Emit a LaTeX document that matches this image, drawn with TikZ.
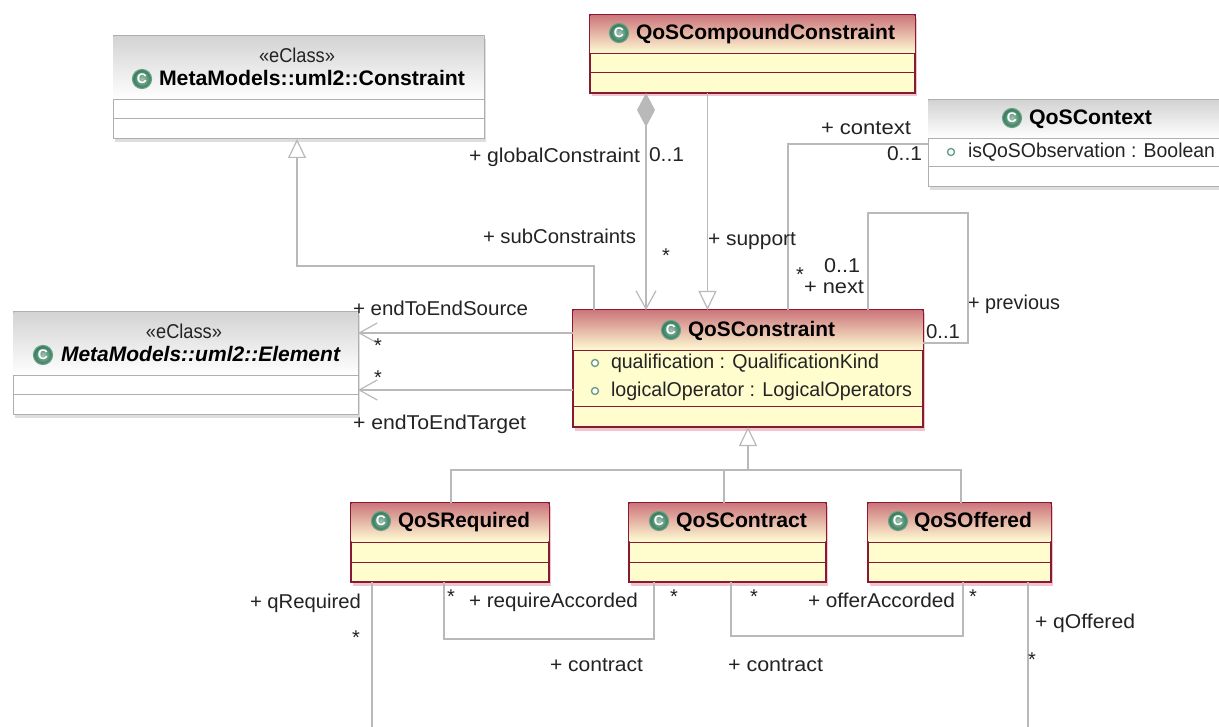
\documentclass[tikz,border=0pt]{standalone}
\usepackage{fontspec}
\usepackage{graphicx}
\setmainfont{Liberation Sans}
\usetikzlibrary{arrows.meta}
\definecolor{lineGray}{RGB}{185,185,185}
\definecolor{sepGray}{RGB}{175,175,175}
\definecolor{darkRed}{RGB}{135,25,50}
\definecolor{paleYellow}{RGB}{255,252,205}
\definecolor{headPink}{RGB}{205,120,125}
\definecolor{shadowPink}{RGB}{240,195,205}
\definecolor{shadowGray}{RGB}{222,222,222}
\definecolor{iconGreen}{RGB}{45,120,85}
\definecolor{inkBlack}{RGB}{35,35,35}
\newcommand{\fitbox}[2]{\resizebox{#1pt}{\height}{#2}}
\tikzset{
  x=1pt,y=-1pt,
  assoc/.style={draw=lineGray,line width=1.2pt},
  gen/.style={assoc,-{Triangle[open,length=19pt,width=18pt,fill=white]}},
  nav/.style={assoc,-{Straight Barb[length=18pt,width=20pt,line width=1.2pt]}},
  comp/.style={assoc,{Diamond[length=34pt,width=18pt,fill=lineGray,color=lineGray]}-{Straight Barb[length=18pt,width=20pt,line width=1.2pt]}},
  lab/.style={anchor=base west,inner sep=0pt,outer sep=0pt,text=inkBlack,font=\fontsize{20}{22}\selectfont},
  star/.style={inner sep=0pt,outer sep=0pt,text=inkBlack,font=\fontsize{20}{22}\selectfont},
  ttl/.style={anchor=base west,inner sep=0pt,outer sep=0pt,text=black,font=\fontsize{21}{23}\selectfont\bfseries},
  icon/.style={circle,inner sep=0pt,minimum size=19pt,draw=iconGreen!70!white,line width=1.2pt,
    inner color=iconGreen!45!white,outer color=iconGreen,text=white,font=\fontsize{14}{14}\selectfont\bfseries},
  dot/.style={circle,inner sep=0pt,minimum size=7pt,draw=iconGreen!70!white,line width=1.4pt,fill=white},
  redbox/.style={draw=darkRed,line width=1.2pt,fill=paleYellow,inner sep=0pt,outer sep=0pt},
  graybox/.style={draw=sepGray,line width=1pt,fill=white,inner sep=0pt,outer sep=0pt},
  redhead/.style={top color=headPink,bottom color=paleYellow!85!white,draw=none},
  grayhead/.style={top color=black!17,bottom color=white,draw=none},
  redsep/.style={draw=darkRed,line width=1pt},
  graysep/.style={draw=sepGray,line width=1pt},
  redshadow/.style={fill=shadowPink,draw=none},
  grayshadow/.style={fill=shadowGray,draw=none},
}
% name, x0, y0, x1, y1, sep1, sep2, kind
\newcommand{\umlclass}[8]{%
  \fill[#8shadow] (#2+2,#3+3) rectangle (#4+2,#5+3.5);
  \node[#8box,minimum width={#4-#2},minimum height={#5-#3}] (#1) at ({(#2+#4)/2},{(#3+#5)/2}) {};
  \path[#8head] (#2+0.7,#3+0.7) rectangle (#4-0.7,#6-0.5);
  \draw[#8sep] (#2,#6) -- (#4,#6);
  \draw[#8sep] (#2,#7) -- (#4,#7);
}
\newcommand{\lbl}[5]{\node[lab] (#1) at (#2,#4+6) {\fitbox{\the\numexpr#3-#2\relax}{#5}};}
\newcommand{\ttlnode}[5]{\node[ttl] (#1) at (#2,#4+6.5) {\fitbox{\the\numexpr#3-#2\relax}{#5}};}
\begin{document}
\begin{tikzpicture}
\useasboundingbox (0,0) rectangle (1219,727);
\clip (0,0) rectangle (1219,727);
\fill[white] (0,0) rectangle (1219,727);

\umlclass{cons}{113}{36}{484}{139}{100}{119}{gray}
\umlclass{comp}{590}{15}{915}{93}{54}{73}{red}
\umlclass{ctx}{928}{100}{1240}{187}{139}{167}{gray}
\umlclass{elem}{13}{312}{358}{415}{376}{395}{gray}
\umlclass{qos}{573}{310}{923}{427}{351}{407}{red}
\umlclass{req}{351}{503}{549}{582}{542}{562}{red}
\umlclass{ctr}{629}{503}{826}{582}{542}{562}{red}
\umlclass{off}{868}{503}{1051}{582}{542}{562}{red}

% titles
\node[star] (consS) at (297,55) {\fitbox{76}{«eClass»}};
\node[icon] (consI) at (142,79) {C};
\ttlnode{consT}{159}{465}{79}{MetaModels::uml2::Constraint}
\node[icon] (compI) at (619,33) {C};
\ttlnode{compT}{636}{895}{33}{QoSCompoundConstraint}
\node[icon] (ctxI) at (1012,118) {C};
\ttlnode{ctxT}{1029}{1152}{118}{QoSContext}
\node[dot] (ctxD) at (951,152) {};
\lbl{ctxA}{968}{1215}{152}{isQoSObservation : Boolean}
\node[star] (elemS) at (184,331) {\fitbox{76}{«eClass»}};
\node[icon] (elemI) at (43,355) {C};
\ttlnode{elemT}{61}{340}{355}{\itshape MetaModels::uml2::Element}
\node[icon] (qosI) at (671,330) {C};
\ttlnode{qosT}{688}{835}{330}{QoSConstraint}
\node[dot] (qosD1) at (595,363) {};
\lbl{qosA1}{611}{879}{363}{qualification : QualificationKind}
\node[dot] (qosD2) at (595,391) {};
\lbl{qosA2}{611}{912}{391}{logicalOperator : LogicalOperators}
\node[icon] (reqI) at (381,521) {C};
\ttlnode{reqT}{398}{530}{521}{QoSRequired}
\node[icon] (ctrI) at (659,521) {C};
\ttlnode{ctrT}{676}{807}{521}{QoSContract}
\node[icon] (offI) at (898,521) {C};
\ttlnode{offT}{914}{1032}{521}{QoSOffered}

% connectors
\coordinate (qreqEnd) at (372,727);
\coordinate (qoffEnd) at (1028,727);
\draw[gen] (594,0 |- qos.north) -- (594,266) -- (297,266) -- (297,0 |- cons.south);
\draw[comp] (646,0 |- comp.south) -- (646,0 |- qos.north);
\draw[gen] (707.5,0 |- comp.south) -- (707.5,0 |- qos.north);
\draw[assoc] (ctx.west |- 0,144) -- (788,144) -- (788,0 |- qos.north);
\draw[assoc] (868,0 |- qos.north) -- (868,213) -- (968,213) -- (968,343) -- (qos.east |- 0,343);
\draw[nav] (qos.west |- 0,333) -- (elem.east |- 0,333);
\draw[nav] (qos.west |- 0,390) -- (elem.east |- 0,390);
\coordinate (genJoin) at (748,470);
\draw[gen] (genJoin) -- (748,0 |- qos.south);
\draw[assoc] (451,0 |- req.north) -- (451,470) -- (genJoin);
\draw[assoc] (724,0 |- ctr.north) -- (724,470);
\draw[assoc] (961,0 |- off.north) -- (961,470) -- (genJoin);
\draw[assoc] (372,0 |- req.south) -- (qreqEnd);
\draw[assoc] (1028,0 |- off.south) -- (qoffEnd);
\draw[assoc] (444,0 |- req.south) -- (444,639) -- (654,639) -- (654,0 |- ctr.south);
\draw[assoc] (731,0 |- ctr.south) -- (731,636) -- (963,636) -- (963,0 |- off.south);

% connector labels
\lbl{l1}{469}{640}{157}{+ globalConstraint}
\lbl{l2}{649}{684}{156}{0..1}
\lbl{l3}{483}{636}{238}{+ subConstraints}
\node[star] (s1) at (666,256) {*};
\lbl{l4}{708}{796}{240}{+ support}
\lbl{l5}{821}{911}{129}{+ context}
\lbl{l6}{887}{922}{155}{0..1}
\node[star] (s2) at (800,275) {*};
\lbl{l7}{824}{860}{267}{0..1}
\lbl{l8}{804}{864}{288}{+ next}
\lbl{l9}{968}{1060}{304}{+ previous}
\lbl{l10}{926}{960}{333}{0..1}
\lbl{l11}{353}{528}{310}{+ endToEndSource}
\node[star] (s3) at (378,346) {*};
\node[star] (s4) at (378,378) {*};
\lbl{l12}{353}{526}{423}{+ endToEndTarget}
\lbl{l13}{250}{361}{602}{+ qRequired}
\node[star] (s5) at (356,638) {*};
\node[star] (s6) at (451,597) {*};
\lbl{l14}{469}{638}{601}{+ requireAccorded}
\node[star] (s7) at (674,597) {*};
\node[star] (s8) at (754,597) {*};
\lbl{l15}{808}{955}{601}{+ offerAccorded}
\node[star] (s9) at (973,597) {*};
\lbl{l16}{1035}{1135}{622}{+ qOffered}
\node[star] (s10) at (1032,660) {*};
\lbl{l17}{550}{643}{665}{+ contract}
\lbl{l18}{728}{823}{665}{+ contract}
\end{tikzpicture}
\end{document}
